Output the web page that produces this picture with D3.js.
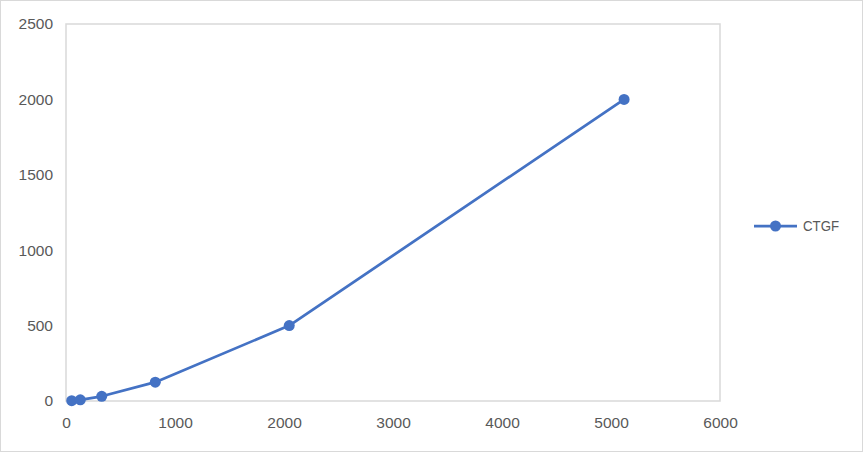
<!DOCTYPE html>
<html><head><meta charset="utf-8">
<script src="https://cdn.jsdelivr.net/npm/d3@7/dist/d3.min.js"></script>
<style>body{margin:0;background:#fff}svg{display:block}</style>
</head><body>
<svg id="c" width="863" height="452"></svg>
<script>
const seriesName = "CTGF";
const xValues = [52.43, 131.07, 327.68, 819.2, 2048, 5120];
const yValues = [1.95, 7.81, 31.25, 125, 500, 2000];
const xTicks = [0, 1000, 2000, 3000, 4000, 5000, 6000];
const yTicks = [0, 500, 1000, 1500, 2000, 2500];

const svg = d3.select("#c");
const W = 863, H = 452;
const m = {l: 66, r: 143, t: 24, b: 51};
const color = "#4472C4";
const font = "'Liberation Sans', Arial, sans-serif";

svg.append("rect").attr("x",0.5).attr("y",0.5).attr("width",W-1).attr("height",H-1)
  .attr("fill","#fff").attr("stroke","#d9d9d9");

const x = d3.scaleLinear().domain([0,6000]).range([m.l, W-m.r]);
const y = d3.scaleLinear().domain([0,2500]).range([H-m.b, m.t]);

svg.append("rect").attr("x",x(0)).attr("y",y(2500))
  .attr("width",x(6000)-x(0)).attr("height",y(0)-y(2500))
  .attr("fill","none").attr("stroke","#d9d9d9").attr("stroke-width",1.5);

const xa = svg.append("g").attr("transform",`translate(0,${y(0)})`)
  .call(d3.axisBottom(x).tickValues(xTicks).tickSize(0).tickPadding(16).tickFormat(d3.format("d")));
const ya = svg.append("g").attr("transform",`translate(${x(0)},0)`)
  .call(d3.axisLeft(y).tickValues(yTicks).tickSize(0).tickPadding(13).tickFormat(d3.format("d")));
[xa,ya].forEach(a=>{
  a.select(".domain").remove();
  a.selectAll("text").attr("fill","#595959").style("font-family",font).style("font-size","15.5px");
});

const data = xValues.map((v,i)=>({x:v,y:yValues[i]}));
svg.append("path").datum(data)
  .attr("d", d3.line().x(d=>x(d.x)).y(d=>y(d.y)))
  .attr("fill","none").attr("stroke",color).attr("stroke-width",2.75).attr("stroke-linejoin","round");
svg.selectAll("circle.pt").data(data).enter().append("circle").attr("class","pt")
  .attr("cx",d=>x(d.x)).attr("cy",d=>y(d.y)).attr("r",5.5).attr("fill",color);

const lg = svg.append("g").attr("transform","translate(754,226)");
lg.append("line").attr("x1",0).attr("x2",43).attr("y1",0).attr("y2",0).attr("stroke",color).attr("stroke-width",2.75);
lg.append("circle").attr("cx",21.5).attr("cy",0).attr("r",5.5).attr("fill",color);
lg.append("text").attr("x",49).attr("y",0).attr("dy","0.35em").text(seriesName)
  .attr("textLength",36).attr("lengthAdjust","spacingAndGlyphs")
  .attr("fill","#595959").style("font-family",font).style("font-size","15.5px");
</script>
</body></html>
